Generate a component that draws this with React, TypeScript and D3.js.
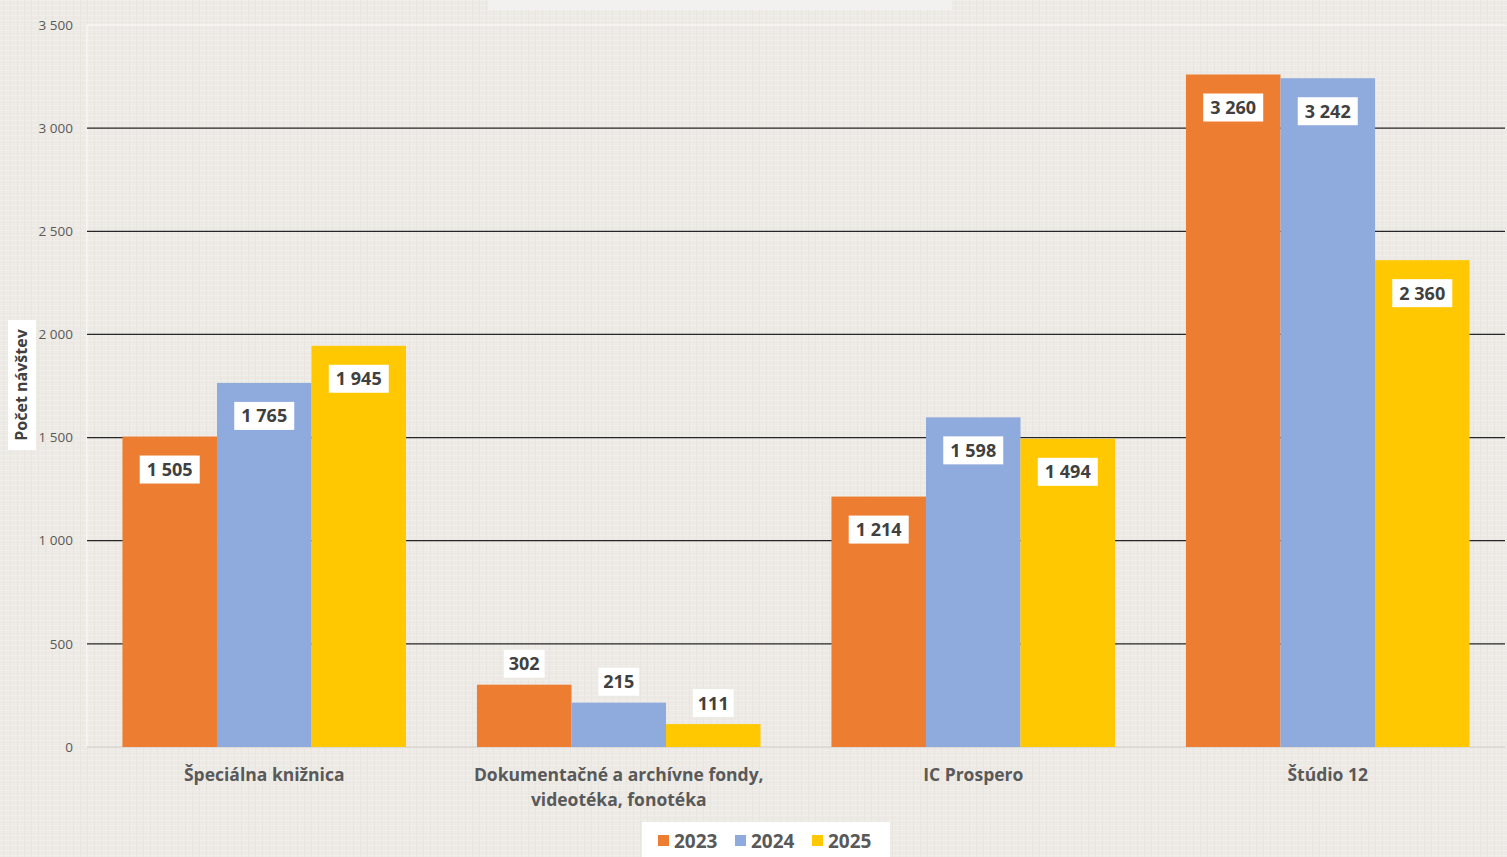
import { useEffect } from 'react';
import * as d3 from 'd3';

const CATEGORIES = [
  ['Špeciálna knižnica'],
  ['Dokumentačné a archívne fondy,', 'videotéka, fonotéka'],
  ['IC Prospero'],
  ['Štúdio 12'],
];
const YEARS = ['2023', '2024', '2025'];
const VALUES_2023 = [1505, 302, 1214, 3260];
const VALUES_2024 = [1765, 215, 1598, 3242];
const VALUES_2025 = [1945, 111, 1494, 2360];
const Y_TICKS = [0, 500, 1000, 1500, 2000, 2500, 3000, 3500];

const COLORS = ['#ED7D31', '#8FAADC', '#FFC800'];
const SERIES = [VALUES_2023, VALUES_2024, VALUES_2025];

const W = 1507;
const H = 857;
const FONT = '"Open Sans", Lato, sans-serif';

const fmt = d3.formatLocale({ decimal: ',', thousands: ' ', grouping: [3], currency: ['', ''] }).format(',d');

export default function App() {
  useEffect(() => {
    document.body.style.margin = '0';
  }, []);

  const margin = { top: 25, right: 2, bottom: 110, left: 87 };
  const x0 = d3
    .scaleBand<number>()
    .domain(CATEGORIES.map((_, i) => i))
    .range([margin.left, W - margin.right])
    .paddingInner(0.2)
    .paddingOuter(0.1);
  const x1 = d3.scaleBand<number>().domain([0, 1, 2]).range([0, x0.bandwidth()]);
  const y = d3.scaleLinear().domain([0, 3500]).range([H - margin.bottom, margin.top]);

  const labelW = (s: string) => s.length * 9.6 + 12;

  return (
    <svg width={W} height={H} style={{ display: 'block' }}>
      <defs>
        <pattern id="linen" width="7" height="5" patternUnits="userSpaceOnUse">
          <rect width="7" height="5" fill="#EDEAE5" />
          <line x1="0" y1="0.5" x2="7" y2="0.5" stroke="#F1EFEB" strokeWidth="1" />
          <line x1="3.5" y1="0" x2="3.5" y2="5" stroke="#E9E6E0" strokeWidth="1" />
        </pattern>
      </defs>
      <rect width={W} height={H} fill="url(#linen)" />
      {/* cut-off title box */}
      <rect x={488} y={0} width={464} height={10} fill="#F2F1EF" />

      {/* plot frame */}
      <line x1={margin.left} x2={margin.left} y1={y(3500)} y2={y(0)} stroke="#F7F6F3" strokeWidth={1.5} />
      {Y_TICKS.map((t) => (
        <g key={t}>
          <line
            x1={margin.left}
            x2={W - margin.right}
            y1={y(t)}
            y2={y(t)}
            stroke={t === 0 ? '#D9D6D0' : t === 3500 ? '#F7F6F3' : '#262626'}
            strokeWidth={t === 0 || t === 3500 ? 1.5 : 1.2}
          />
          <text
            x={73}
            y={y(t)}
            dy="0.35em"
            textAnchor="end"
            fontFamily={FONT}
            fontSize={13.5}
            fill="#595959"
          >
            {fmt(t)}
          </text>
        </g>
      ))}

      {/* y title */}
      <rect x={8} y={320} width={28} height={130} fill="#FFFFFF" />
      <text
        transform={`translate(27,385) rotate(-90)`}
        textAnchor="middle"
        fontFamily={FONT}
        fontWeight="bold"
        fontSize={16}
        fill="#404040"
      >
        Počet návštev
      </text>

      {/* bars */}
      {CATEGORIES.map((_, ci) =>
        SERIES.map((vals, si) => {
          const v = vals[ci];
          const bx = (x0(ci) as number) + (x1(si) as number);
          const bw = x1.bandwidth();
          const top = y(v);
          return (
            <rect key={`${ci}-${si}`} x={bx} y={top} width={bw} height={y(0) - top} fill={COLORS[si]} />
          );
        })
      )}

      {/* data labels */}
      {CATEGORIES.map((_, ci) =>
        SERIES.map((vals, si) => {
          const v = vals[ci];
          const cx = (x0(ci) as number) + (x1(si) as number) + x1.bandwidth() / 2;
          const top = y(v);
          const inside = y(0) - top > 80;
          const cy = inside ? top + 33 : top - 21;
          const s = fmt(v);
          const lw = labelW(s);
          return (
            <g key={`l-${ci}-${si}`}>
              <rect x={cx - lw / 2} y={cy - 14} width={lw} height={28} fill="#FFFFFF" />
              <text
                x={cx}
                y={cy}
                dy="0.36em"
                textAnchor="middle"
                fontFamily={FONT}
                fontWeight="bold"
                fontSize={18}
                fill="#404040"
              >
                {s}
              </text>
            </g>
          );
        })
      )}

      {/* category labels */}
      {CATEGORIES.map((lines, ci) => (
        <text
          key={`c-${ci}`}
          x={(x0(ci) as number) + x0.bandwidth() / 2}
          y={775}
          textAnchor="middle"
          fontFamily={FONT}
          fontWeight="bold"
          fontSize={17.5}
          fill="#595959"
        >
          {lines.map((ln, li) => (
            <tspan key={li} x={(x0(ci) as number) + x0.bandwidth() / 2} dy={li === 0 ? '0.35em' : 25}>
              {ln}
            </tspan>
          ))}
        </text>
      ))}

      {/* legend */}
      <rect x={642} y={822} width={248} height={35} fill="#FFFFFF" />
      {YEARS.map((yr, i) => (
        <g key={yr} transform={`translate(${658 + i * 77},0)`}>
          <rect x={0} y={835} width={11} height={11} fill={COLORS[i]} />
          <text x={16} y={841} dy="0.36em" fontFamily={FONT} fontWeight="bold" fontSize={19} fill="#595959">
            {yr}
          </text>
        </g>
      ))}
    </svg>
  );
}
